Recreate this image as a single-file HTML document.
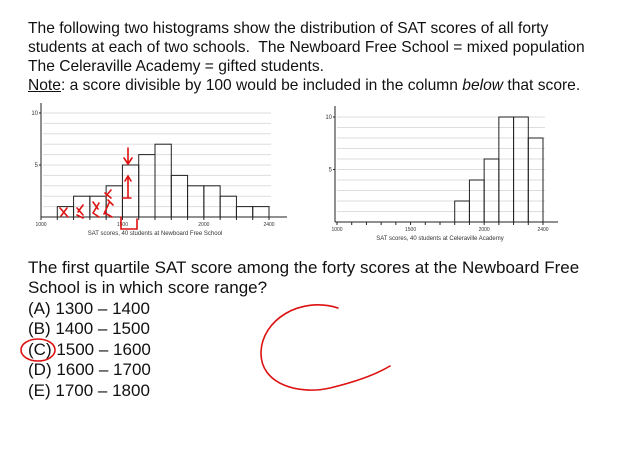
<!DOCTYPE html>
<html><head><meta charset="utf-8"><style>
body{margin:0;width:620px;height:464px;background:#fff;overflow:hidden;position:relative;font-family:"Liberation Sans",sans-serif;color:#111}
.t{position:absolute;left:28px;font-size:15.6px;white-space:nowrap;line-height:19px}
.q{font-size:17px;line-height:20px}
svg{position:absolute;left:0;top:0}
</style></head><body>
<div class="t" style="top:19px">The following two histograms show the distribution of SAT scores of all forty</div>
<div class="t" style="top:38px">students at each of two schools.&nbsp; The Newboard Free School = mixed population</div>
<div class="t" style="top:57px">The Celeraville Academy = gifted students.</div>
<div class="t" style="top:76px"><u>Note</u>: a score divisible by 100 would be included in the column <i>below</i> that score.</div>
<div class="t q" style="top:258px">The first quartile SAT score among the forty scores at the Newboard Free</div>
<div class="t q" style="top:278px">School is in which score range?</div>
<div class="t q" style="top:299px">(A) 1300 – 1400</div>
<div class="t q" style="top:319px">(B) 1400 – 1500</div>
<div class="t q" style="top:340px">(C) 1500 – 1600</div>
<div class="t q" style="top:360px">(D) 1600 – 1700</div>
<div class="t q" style="top:381px">(E) 1700 – 1800</div>
<svg id="s" width="620" height="464"></svg>
<script>
const binsA=[1100,1200,1300,1400,1500,1600,1700,1800,1900,2000,2100,2200,2300];
const countsA=[1,2,2,3,5,6,7,4,3,3,2,1,1];
const binsB=[1800,1900,2000,2100,2200,2300];
const countsB=[2,4,6,10,10,8];
const xTicks=[1000,1500,2000,2400];
const yTicks=[5,10];
const ns="http://www.w3.org/2000/svg",S=document.getElementById('s');
function el(t,a,txt){const e=document.createElementNS(ns,t);for(const k in a)e.setAttribute(k,a[k]);if(txt!==undefined)e.textContent=txt;S.appendChild(e);return e;}
function chart(cfg,bins,counts,title,nm){
 const X=v=>cfg.x0+(v-1000)*(cfg.x1-cfg.x0)/1400;
 const Y=v=>cfg.y0-v*(cfg.y0-cfg.y10)/10;
 for(let i=1;i<=10;i++){const g=el('line',{x1:cfg.ax+2,x2:X(2400)+2,y1:Y(i),y2:Y(i),stroke:'#ddd','stroke-width':1});
  }
 bins.forEach((b,i)=>{const r=el('rect',{x:X(b),y:Y(counts[i]),width:X(b+100)-X(b),height:Y(0)-Y(counts[i]),fill:'none',stroke:'#222','stroke-width':1});
  });
 const xa=el('line',{x1:cfg.ax,x2:cfg.xend,y1:cfg.y0,y2:cfg.y0,stroke:'#222'});
 
 const ya=el('line',{x1:cfg.ax,x2:cfg.ax,y1:cfg.ytop,y2:cfg.y0,stroke:'#222'});
 
 for(let v=1000;v<=2400;v+=100){const tk=el('line',{x1:X(v),x2:X(v),y1:cfg.y0,y2:cfg.y0+3,stroke:'#222'});
  }
 xTicks.forEach(v=>{const t=el('text',{x:X(v),y:cfg.y0+9,'font-size':5,'text-anchor':'middle',fill:'#333'},v);
  });
 yTicks.forEach(v=>{const t=el('text',{x:cfg.ax-3,y:Y(v)+2,'font-size':6,'text-anchor':'end',fill:'#333'},v);
  
  const tk=el('line',{x1:cfg.ax-2,x2:cfg.ax,y1:Y(v),y2:Y(v),stroke:'#222'});
  });
 const tt=el('text',{x:(cfg.x0+cfg.x1)/2,y:cfg.y0+18,'font-size':6,'text-anchor':'middle',fill:'#333'},title);
 
}
chart({x0:41,x1:269,y0:217,y10:113,ax:41,ytop:103,xend:287},binsA,countsA,'SAT scores, 40 students at Newboard Free School','newboard');
chart({x0:337,x1:543,y0:222,y10:117,ax:335,ytop:106,xend:558},binsB,countsB,'SAT scores, 40 students at Celeraville Academy','celeraville');
</script>
<svg width="620" height="464" style="pointer-events:none">
<g fill="none" stroke="#d11" stroke-width="1.6" stroke-linecap="round">
<path d="M60,208l8,9M67,208l-6,8M77,208l6,7M83,205l-5,7M93,202l5,7M99,203l-6,10M77,215l6,3M93,213l6,4M109,203l-5,11M105,193l6,5M111,190l-5,6M105,213l7,4M108,200l5,5"/>
<path d="M128,148v16M124,158l4,6l4,-6M128,197v-20M125,181l3,-5l3,5M123,198h8M121,217v12h16v-10"/>
<ellipse cx="38" cy="350" rx="17" ry="11"/>
<path d="M338,308C300,296 262,320 261,352C260,385 300,395 330,388C355,382 375,375 390,366"/>
</g></svg>
</body></html>
